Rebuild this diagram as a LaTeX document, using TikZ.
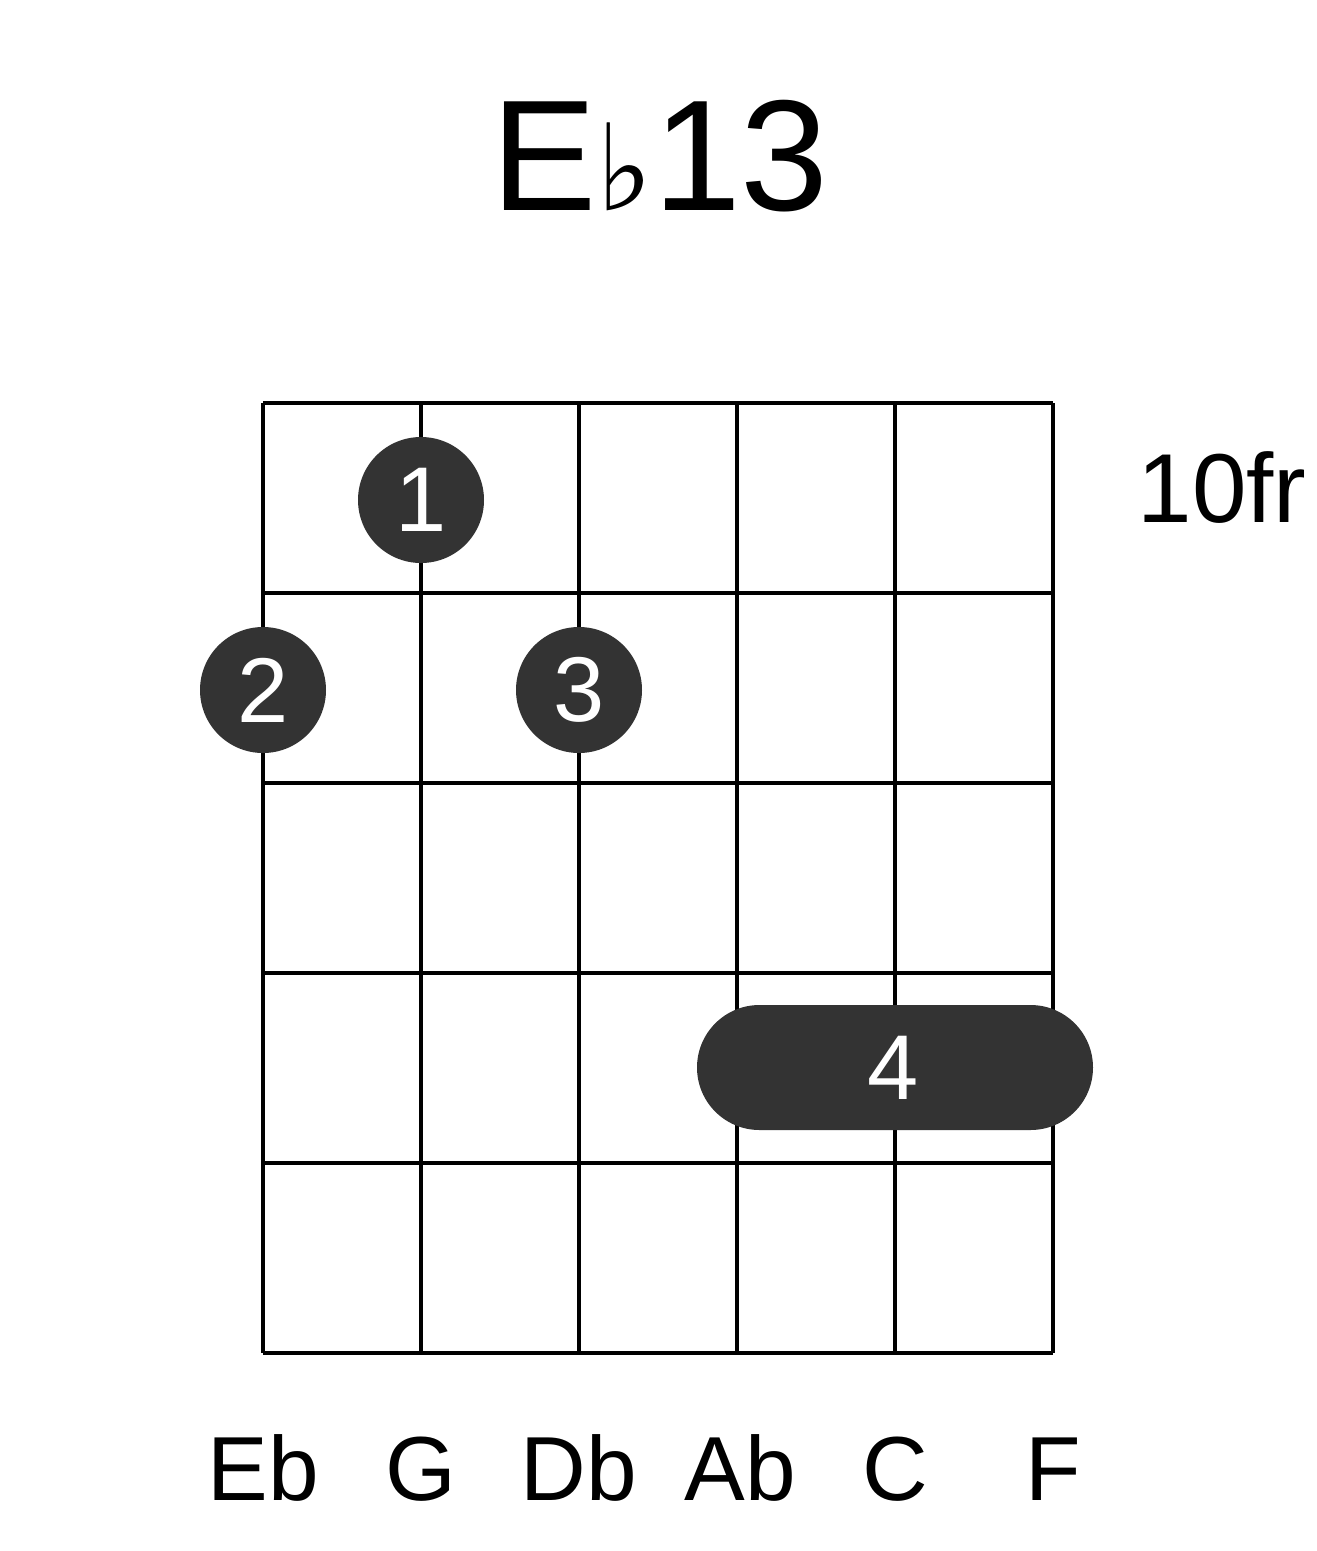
\documentclass[tikz,border=0pt]{standalone}
\usepackage{fontspec}
\setmainfont{Liberation Sans}
\newfontfamily\symfont{DejaVu Sans}
\begin{document}
\begin{tikzpicture}[x=1pt,y=-1pt,
  gridline/.style={line width=4pt},
  dotf/.style={circle,fill=black!80,minimum size=126pt,inner sep=0pt,text=white,font=\fontsize{92}{92}\selectfont},
  lbl/.style={font=\fontsize{91}{91}\selectfont,anchor=base}]
\useasboundingbox (0,0) rectangle (1317,1551);
\foreach \x in {263,421,579,737,895,1053} \draw[gridline] (\x,403) -- (\x,1353);
\foreach \y in {403,593,783,973,1163,1353} \draw[gridline] (263,\y) -- (1053,\y);
\node[dotf] (d1) at (421,500) {1};
\node[dotf] (d2) at (263,690) {2};
\node[dotf] (d3) at (579,690) {3};
\fill[black!80,rounded corners=62.5pt] (697,1005) rectangle (1093,1130);
\node[text=white,font=\fontsize{92}{92}\selectfont] (d4) at (893,1068) {4};
\node[anchor=base,font=\fontsize{158}{158}\selectfont] (title) at (660,210) {E{\symfont\fontsize{120}{120}\selectfont ♭}13};
\node[anchor=base,font=\fontsize{98}{98}\selectfont] (fr) at (1222,522) {10fr};
\foreach \n/\x in {Eb/263,G/421,Db/579,Ab/740,C/895,F/1053}
  \node[lbl] at (\x,1500) {\n};
\end{tikzpicture}
\end{document}
